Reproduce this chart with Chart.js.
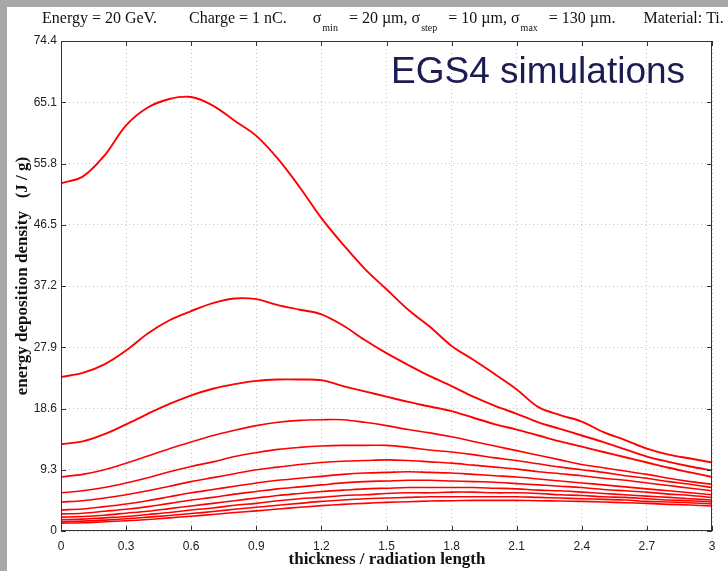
<!DOCTYPE html>
<html><head><meta charset="utf-8">
<script src="https://cdn.jsdelivr.net/npm/chart.js@4/dist/chart.umd.min.js"></script>
<style>html,body{margin:0;padding:0;background:#a8a8a8;overflow:hidden}canvas{display:block}</style>
</head><body>
<canvas id="c" width="728" height="571"></canvas>
<script>
// ---- data ----
const thickness = [0,0.1,0.2,0.3,0.4,0.5,0.6,0.7,0.8,0.9,1.0,1.1,1.2,1.3,1.4,1.5,1.6,1.7,1.8,1.9,2.0,2.1,2.2,2.3,2.4,2.5,2.6,2.7,2.8,2.9,3.0];
const sigmaLabels = ['σ = 20 µm','σ = 30 µm','σ = 40 µm','σ = 50 µm','σ = 60 µm','σ = 70 µm','σ = 80 µm','σ = 90 µm','σ = 100 µm','σ = 110 µm','σ = 120 µm','σ = 130 µm'];
const sigma20  = [52.8,53.8,57.0,61.6,64.3,65.6,65.9,64.6,62.3,60.0,56.5,52.2,47.5,43.5,39.8,36.7,33.6,31.0,28.1,26.0,23.8,21.5,18.8,17.6,16.6,15.0,13.8,12.5,11.6,11.0,10.4];
const sigma30  = [23.4,24.0,25.3,27.4,30.0,32.0,33.4,34.6,35.3,35.2,34.3,33.6,32.9,31.2,29.0,27.0,25.2,23.5,22.0,20.4,19.0,17.8,16.5,15.5,14.5,13.5,12.4,11.3,10.5,9.8,9.2];
const sigma40  = [13.2,13.6,14.7,16.2,17.8,19.3,20.6,21.6,22.3,22.8,23.0,23.0,22.9,22.0,21.2,20.4,19.6,18.9,18.2,17.2,16.2,15.4,14.5,13.6,12.8,12.0,11.2,10.4,9.6,8.9,8.2];
const sigma50  = [8.2,8.6,9.3,10.3,11.4,12.5,13.5,14.5,15.3,16.0,16.5,16.8,16.9,16.9,16.5,16.0,15.4,14.9,14.3,13.6,12.9,12.2,11.5,10.8,10.1,9.6,9.1,8.6,8.0,7.5,7.1];
const sigma60  = [5.8,6.1,6.6,7.3,8.1,9.0,9.8,10.5,11.3,11.9,12.4,12.7,12.9,13.0,13.0,13.0,12.7,12.3,12.0,11.6,11.1,10.7,10.2,9.7,9.3,8.9,8.4,8.0,7.5,7.1,6.6];
const sigma70  = [4.4,4.6,5.0,5.5,6.1,6.8,7.5,8.1,8.7,9.3,9.7,10.1,10.4,10.6,10.7,10.8,10.7,10.5,10.3,10.0,9.7,9.4,9.0,8.7,8.4,8.0,7.7,7.3,6.9,6.5,6.1];
const sigma80  = [3.2,3.35,3.7,4.1,4.6,5.2,5.8,6.3,6.8,7.3,7.7,8.0,8.3,8.6,8.8,8.9,9.0,8.9,8.8,8.6,8.4,8.2,7.9,7.6,7.3,7.0,6.7,6.4,6.1,5.8,5.5];
const sigma90  = [2.6,2.7,3.0,3.3,3.7,4.2,4.7,5.1,5.6,6.0,6.4,6.7,7.0,7.3,7.5,7.6,7.7,7.7,7.6,7.5,7.4,7.2,7.0,6.8,6.6,6.3,6.1,5.9,5.6,5.4,5.1];
const sigma100 = [2.1,2.2,2.4,2.7,3.0,3.4,3.8,4.2,4.6,5.0,5.4,5.7,6.0,6.2,6.4,6.5,6.6,6.6,6.6,6.6,6.5,6.4,6.2,6.1,5.9,5.7,5.5,5.3,5.1,4.9,4.7];
const sigma110 = [1.7,1.8,2.0,2.2,2.5,2.8,3.2,3.5,3.9,4.2,4.6,4.9,5.1,5.4,5.5,5.7,5.8,5.8,5.9,5.9,5.8,5.8,5.7,5.5,5.4,5.2,5.1,4.9,4.7,4.6,4.4];
const sigma120 = [1.4,1.5,1.65,1.85,2.1,2.35,2.65,2.95,3.3,3.6,3.9,4.2,4.5,4.7,4.9,5.0,5.1,5.2,5.2,5.2,5.2,5.2,5.1,5.0,4.9,4.8,4.7,4.5,4.4,4.3,4.1];
const sigma130 = [1.2,1.25,1.4,1.55,1.75,2.0,2.25,2.5,2.8,3.05,3.35,3.6,3.85,4.05,4.2,4.35,4.45,4.55,4.6,4.65,4.65,4.65,4.6,4.55,4.5,4.4,4.3,4.2,4.05,3.95,3.8];
const xTicks = [0,0.3,0.6,0.9,1.2,1.5,1.8,2.1,2.4,2.7,3];
const xTickLabels = ['0','0.3','0.6','0.9','1.2','1.5','1.8','2.1','2.4','2.7','3'];
const yTicks = [0,9.3,18.6,27.9,37.2,46.5,55.8,65.1,74.4];
const yTickLabels = ['0','9.3','18.6','27.9','37.2','46.5','55.8','65.1','74.4'];
// title pieces: text, is subscript, gap after (px)
const titleParts = [['Energy = 20 GeV.',0,32],['Charge = 1 nC.',0,26],['σ',0,1],['min',1,11],['= 20 µm, σ',0,1],['step',1,11],['= 10 µm, σ',0,1],['max',1,11],['= 130 µm.',0,28],['Material: Ti.',0,0]];
const xTitle = 'thickness / radiation length';
const yTitle = 'energy deposition density   (J / g)';
const noteText = 'EGS4 simulations';

const allSeries = [sigma20,sigma30,sigma40,sigma50,sigma60,sigma70,sigma80,sigma90,sigma100,sigma110,sigma120,sigma130];
const datasets = allSeries.map((s,i)=>({
  label: sigmaLabels[i],
  data: s.map((v,j)=>({x:thickness[j], y:v})),
  borderColor:'#ff0000', borderWidth: i<3 ? 1.9 : 1.6, pointRadius:0, tension:0.35, fill:false
}));

const decor = {
  id:'decor',
  beforeDraw(chart){
    const c = chart.ctx;
    c.save();
    c.fillStyle='#a8a8a8'; c.fillRect(0,0,chart.width,chart.height);
    c.fillStyle='#ffffff'; c.fillRect(7,7,chart.width-7,chart.height-7);
    c.restore();
  },
  afterDatasetsDraw(chart){
    const c = chart.ctx, a = chart.chartArea, xs = chart.scales.x, ys = chart.scales.y;
    c.save();
    c.setLineDash([]);
    c.strokeStyle='#333'; c.lineWidth=1;
    c.strokeRect(a.left+0.5, a.top+0.5, a.right-a.left-1, a.bottom-a.top-1);
    c.beginPath();
    xTicks.forEach(v=>{ const p=Math.round(xs.getPixelForValue(v))+0.5;
      c.moveTo(p,a.bottom); c.lineTo(p,a.bottom-5); c.moveTo(p,a.top); c.lineTo(p,a.top+5); });
    yTicks.forEach(v=>{ const p=Math.round(ys.getPixelForValue(v))+0.5;
      c.moveTo(a.left,p); c.lineTo(a.left+5,p); c.moveTo(a.right,p); c.lineTo(a.right-5,p); });
    c.stroke();
    // title with subscripts, laid out left to right
    const base = 23; let x = 42;
    c.fillStyle='#111'; c.textBaseline='alphabetic'; c.textAlign='left';
    titleParts.forEach(([t,sub,gap])=>{
      c.font = sub ? '10px "Liberation Serif"' : '16px "Liberation Serif"';
      c.fillText(t, x, sub ? base+8 : base);
      x += c.measureText(t).width + gap;
    });
    // axis titles
    c.font='bold 17px "Liberation Serif"'; c.textAlign='center'; c.textBaseline='middle';
    c.fillText(xTitle, 387, 560);
    c.save(); c.translate(23, 276); c.rotate(-Math.PI/2); c.fillText(yTitle, 0, 0); c.restore();
    // note
    c.font='37px "Liberation Sans"'; c.fillStyle='#1c1c52'; c.textAlign='left'; c.textBaseline='alphabetic';
    c.fillText(noteText, 391, 83);
    c.restore();
  }
};

new Chart(document.getElementById('c'), {
  type:'line',
  data:{datasets},
  plugins:[decor],
  options:{
    responsive:false, animation:false, devicePixelRatio:1,
    layout:{padding:{left:0, top:41, right:16, bottom:0}},
    plugins:{legend:{display:false}, tooltip:{enabled:false}, title:{display:false}},
    scales:{
      x:{type:'linear', min:0, max:3,
        afterBuildTicks:s=>{ s.ticks = xTicks.map(v=>({value:v})); },
        afterFit:s=>{ s.height = 40; },
        ticks:{callback:(v,i)=>xTickLabels[i], padding:8, color:'#222', font:{family:'"Liberation Sans"', size:12}, maxRotation:0, autoSkip:false},
        grid:{color:'#c4c4c4', lineWidth:1, drawTicks:false},
        border:{display:false, dash:[1,3]}
      },
      y:{type:'linear', min:0, max:74.4,
        afterBuildTicks:s=>{ s.ticks = yTicks.map(v=>({value:v})); },
        afterFit:s=>{ s.width = 61; },
        ticks:{callback:(v,i)=>yTickLabels[i], padding:4, color:'#222', font:{family:'"Liberation Sans"', size:12}, autoSkip:false},
        grid:{color:'#c4c4c4', lineWidth:1, drawTicks:false},
        border:{display:false, dash:[1,3]}
      }
    }
  }
});
</script>
</body></html>
